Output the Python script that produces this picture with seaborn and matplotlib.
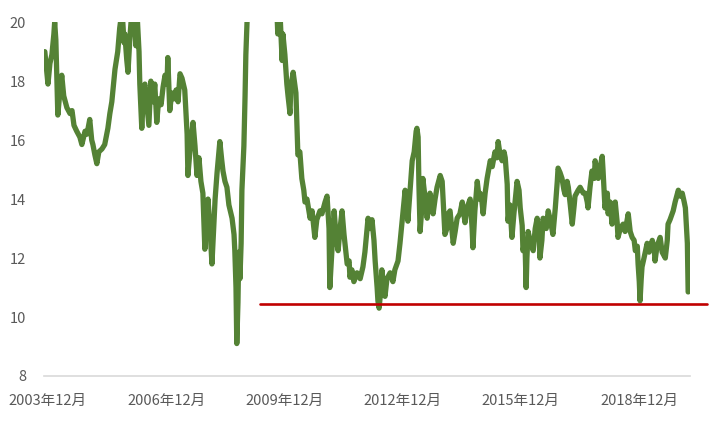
import matplotlib
matplotlib.use("Agg")
import matplotlib.pyplot as plt
import seaborn as sns
import numpy as np

# Data (decimal years, value)
years = [
    2003.84, 2003.89, 2003.92, 2003.97, 2004.02, 2004.07, 2004.09, 2004.12, 2004.17, 2004.22,
    2004.27, 2004.32, 2004.40, 2004.48, 2004.53, 2004.58, 2004.65, 2004.73, 2004.78, 2004.86,
    2004.91, 2004.98, 2005.03, 2005.06, 2005.11, 2005.16, 2005.21, 2005.29, 2005.36, 2005.44,
    2005.49, 2005.54, 2005.62, 2005.69, 2005.74, 2005.80, 2005.85, 2005.87, 2005.92, 2005.95,
    2006.00, 2006.05, 2006.10, 2006.15, 2006.18, 2006.23, 2006.25, 2006.30, 2006.35, 2006.38,
    2006.43, 2006.48, 2006.53, 2006.58, 2006.63, 2006.68, 2006.73, 2006.79, 2006.84, 2006.89,
    2006.94, 2006.96, 2007.01, 2007.06, 2007.12, 2007.17, 2007.22, 2007.27, 2007.32, 2007.39,
    2007.45, 2007.47, 2007.52, 2007.60, 2007.65, 2007.70, 2007.75, 2007.80, 2007.85, 2007.90,
    2007.95, 2007.98, 2008.03, 2008.08, 2008.13, 2008.16, 2008.21, 2008.28, 2008.33, 2008.36,
    2008.41, 2008.46, 2008.51, 2008.59, 2008.64, 2008.66, 2008.69, 2008.71, 2008.74, 2008.76,
    2008.79, 2008.82, 2008.84, 2008.89, 2008.92, 2008.94, 2008.97, 2008.99, 2009.04, 2009.17,
    2009.30, 2009.42, 2009.55, 2009.68, 2009.73, 2009.75, 2009.81, 2009.86, 2009.88, 2009.93,
    2009.98, 2010.01, 2010.06, 2010.08, 2010.14, 2010.19, 2010.21, 2010.26, 2010.31, 2010.36,
    2010.41, 2010.44, 2010.49, 2010.57, 2010.62, 2010.69, 2010.74, 2010.82, 2010.87, 2010.95,
    2011.00, 2011.05, 2011.07, 2011.13, 2011.18, 2011.23, 2011.28, 2011.33, 2011.38, 2011.43,
    2011.51, 2011.56, 2011.58, 2011.63, 2011.68, 2011.76, 2011.84, 2011.91, 2011.96, 2012.04,
    2012.09, 2012.14, 2012.19, 2012.22, 2012.27, 2012.29, 2012.32, 2012.37, 2012.39, 2012.44,
    2012.47, 2012.52, 2012.60, 2012.67, 2012.72, 2012.80, 2012.85, 2012.90, 2012.98, 2013.03,
    2013.05, 2013.10, 2013.16, 2013.21, 2013.26, 2013.28, 2013.31, 2013.33, 2013.36, 2013.41,
    2013.43, 2013.49, 2013.54, 2013.59, 2013.61, 2013.66, 2013.69, 2013.74, 2013.79, 2013.87,
    2013.92, 2013.94, 2013.99, 2014.04, 2014.07, 2014.12, 2014.15, 2014.20, 2014.25, 2014.30,
    2014.37, 2014.43, 2014.50, 2014.55, 2014.63, 2014.68, 2014.70, 2014.75, 2014.81, 2014.86,
    2014.88, 2014.93, 2014.96, 2015.01, 2015.06, 2015.14, 2015.19, 2015.26, 2015.31, 2015.34,
    2015.39, 2015.44, 2015.49, 2015.52, 2015.57, 2015.59, 2015.64, 2015.69, 2015.74, 2015.82,
    2015.87, 2015.90, 2015.95, 2015.97, 2016.02, 2016.05, 2016.07, 2016.10, 2016.15, 2016.23,
    2016.28, 2016.33, 2016.38, 2016.40, 2016.45, 2016.48, 2016.56, 2016.61, 2016.66, 2016.73,
    2016.79, 2016.84, 2016.86, 2016.91, 2016.96, 2017.01, 2017.04, 2017.09, 2017.12, 2017.17,
    2017.22, 2017.27, 2017.29, 2017.37, 2017.42, 2017.50, 2017.55, 2017.60, 2017.62, 2017.67,
    2017.72, 2017.78, 2017.80, 2017.85, 2017.88, 2017.93, 2017.98, 2018.00, 2018.05, 2018.11,
    2018.13, 2018.18, 2018.23, 2018.26, 2018.31, 2018.36, 2018.38, 2018.44, 2018.51, 2018.56,
    2018.64, 2018.69, 2018.74, 2018.79, 2018.82, 2018.87, 2018.89, 2018.92, 2018.94, 2018.97,
    2018.99, 2019.04, 2019.12, 2019.17, 2019.25, 2019.30, 2019.32, 2019.37, 2019.45, 2019.50,
    2019.58, 2019.63, 2019.65, 2019.70, 2019.78, 2019.83, 2019.91, 2019.96, 2020.01, 2020.06,
    2020.09, 2020.11, 2020.14, 2020.16,
]
values = [
    19.0, 18.3, 17.9, 18.6, 18.9, 19.6, 20.0, 19.4, 16.85, 17.6,
    18.2, 17.5, 17.1, 16.9, 17.0, 16.5, 16.3, 16.1, 15.85, 16.3,
    16.2, 16.7, 16.0, 15.85, 15.5, 15.2, 15.6, 15.7, 15.85, 16.4,
    16.9, 17.3, 18.4, 19.0, 19.8, 20.4, 19.3, 19.6, 18.7, 18.3,
    19.5, 20.4, 20.3, 19.2, 20.3, 19.0, 17.9, 16.4, 17.8, 17.9,
    17.2, 16.5, 18.0, 17.3, 17.9, 16.6, 17.4, 17.2, 17.8, 18.2,
    17.9, 18.8, 17.0, 17.6, 17.4, 17.7, 17.3, 18.25, 18.1, 17.7,
    16.2, 14.8, 15.6, 16.6, 15.8, 14.8, 15.4, 14.6, 14.2, 12.3,
    13.6, 14.0, 13.0, 11.8, 13.2, 14.0, 14.9, 15.95, 15.3, 14.95,
    14.6, 14.4, 13.8, 13.35, 12.8, 12.25, 11.0, 9.1, 10.5, 12.2,
    11.3, 12.5, 14.3, 15.8, 17.5, 18.9, 20.0, 21.0, 22.5, 25.0,
    27.0, 26.0, 23.5, 21.0, 20.3, 19.6, 20.2, 18.7, 19.6, 18.9,
    17.9, 17.5, 16.9, 17.8, 18.3, 17.8, 17.6, 15.5, 15.6, 14.7,
    14.3, 13.9, 14.0, 13.35, 13.6, 12.7, 13.3, 13.6, 13.5, 13.9,
    14.1, 13.0, 11.0, 12.4, 13.6, 12.7, 12.25, 13.0, 13.6, 12.8,
    11.8, 11.9, 11.35, 11.6, 11.2, 11.5, 11.3, 11.7, 12.2, 13.35,
    13.0, 13.3, 12.6, 11.9, 11.0, 10.55, 10.3, 11.0, 11.6, 11.0,
    10.7, 11.3, 11.5, 11.2, 11.6, 11.9, 12.5, 13.2, 14.3, 13.6,
    13.25, 14.2, 15.3, 15.6, 16.3, 16.4, 16.1, 14.5, 12.9, 13.8,
    14.7, 14.0, 13.35, 14.0, 14.2, 13.8, 13.5, 14.0, 14.4, 14.8,
    14.6, 14.1, 12.8, 13.0, 13.5, 13.6, 13.2, 12.5, 12.9, 13.35,
    13.5, 13.9, 13.2, 13.7, 14.0, 13.0, 12.35, 13.6, 14.6, 14.0,
    14.2, 13.9, 13.5, 14.2, 14.7, 15.3, 15.1, 15.6, 15.4, 15.95,
    15.5, 15.3, 15.6, 15.4, 14.5, 13.25, 13.8, 12.7, 13.5, 14.6,
    14.3, 13.7, 13.1, 12.25, 12.6, 11.0, 12.0, 12.9, 12.6, 12.25,
    13.0, 13.35, 12.8, 12.0, 12.6, 13.35, 13.0, 13.6, 13.3, 12.8,
    13.7, 14.6, 15.05, 14.9, 14.7, 14.3, 14.15, 14.6, 14.4, 13.8,
    13.15, 13.8, 14.1, 14.3, 14.4, 14.2, 14.2, 13.9, 13.7, 14.4,
    14.95, 14.7, 15.3, 14.9, 14.7, 15.1, 15.45, 15.0, 13.7, 14.2,
    13.5, 13.9, 13.15, 13.7, 13.9, 13.2, 12.7, 13.0, 13.15, 12.9,
    13.5, 12.9, 12.7, 12.6, 12.25, 12.4, 11.8, 11.2, 10.55, 11.3,
    11.7, 12.0, 12.5, 12.2, 12.6, 12.3, 11.9, 12.4, 12.7, 12.2,
    12.0, 12.6, 13.15, 13.3, 13.6, 13.9, 14.3, 14.1, 14.2, 13.9,
    13.7, 13.2, 12.5, 10.85,
]

# Horizontal reference level (red)
ref_years = [2009.30, 2020.64]
ref_values = [10.45, 10.45]

tick_years = [2003.917, 2006.917, 2009.917, 2012.917, 2015.917, 2018.917]
tick_labels = ["2003年12月", "2006年12月", "2009年12月", "2012年12月", "2015年12月", "2018年12月"]
y_ticks = [8, 10, 12, 14, 16, 18, 20]

sns.set_theme(style="white")
plt.rcParams["font.family"] = ["Noto Sans CJK SC", "DejaVu Sans"]

fig = plt.figure(figsize=(7.1, 4.26), dpi=100)
ax = fig.add_axes([0.062, 0.1174, 0.910, 0.8306])

sns.lineplot(x=years, y=values, ax=ax, color="#548235", linewidth=3.8,
             estimator=None, sort=False)
ax.lines[-1].set_solid_joinstyle("round")
sns.lineplot(x=ref_years, y=ref_values, ax=ax, color="#C00000", linewidth=1.9,
             estimator=None, sort=False)
ax.lines[-1].set_clip_on(False)

ax.set_xlim(2003.82, 2020.21)
ax.set_ylim(8, 20)
ax.set_xticks(tick_years)
ax.set_xticklabels(tick_labels)
ax.set_yticks(y_ticks)
ax.set_yticklabels([str(v) for v in y_ticks])
ax.tick_params(axis="both", length=0, labelsize=10.5, labelcolor="#595959")
ax.tick_params(axis="x", pad=13)
ax.tick_params(axis="y", pad=13)

for side in ["top", "right", "left"]:
    ax.spines[side].set_visible(False)
ax.spines["bottom"].set_color("#d9d9d9")
ax.spines["bottom"].set_linewidth(1.2)
ax.grid(False)
ax.set_xlabel("")
ax.set_ylabel("")

fig.savefig("out.png", dpi=100)
